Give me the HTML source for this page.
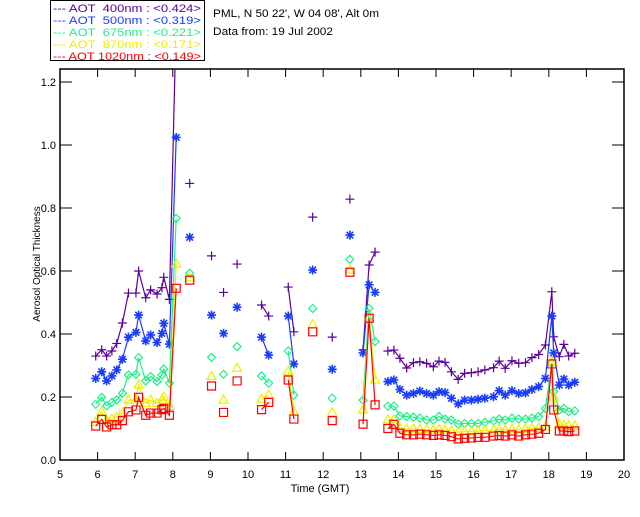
<!DOCTYPE html>
<html><head><meta charset="utf-8"><style>
body{margin:0;background:#fff;}
svg text{font-family:"Liberation Sans",sans-serif;}
</style></head><body>
<svg id="chart" width="640" height="512" xmlns="http://www.w3.org/2000/svg">
<rect width="640" height="512" fill="#fff"/>
<g font-size="11">
<rect x="50.5" y="0.5" width="154" height="60" fill="#fff" stroke="#000"/>
<text x="53" y="12" fill="#5a0099" textLength="148" lengthAdjust="spacingAndGlyphs" xml:space="preserve">--- AOT  400nm : &lt;0.424&gt;</text>
<text x="53" y="24" fill="#1a3cff" textLength="148" lengthAdjust="spacingAndGlyphs" xml:space="preserve">--- AOT  500nm : &lt;0.319&gt;</text>
<text x="53" y="36" fill="#22ee88" textLength="148" lengthAdjust="spacingAndGlyphs" xml:space="preserve">--- AOT  675nm : &lt;0.221&gt;</text>
<text x="53" y="48" fill="#eeee00" textLength="148" lengthAdjust="spacingAndGlyphs" xml:space="preserve">--- AOT  870nm : &lt;0.171&gt;</text>
<text x="53" y="60" fill="#ff0000" textLength="148" lengthAdjust="spacingAndGlyphs" xml:space="preserve">--- AOT 1020nm : &lt;0.149&gt;</text>
</g>
<text x="213" y="17" font-size="11" textLength="166" lengthAdjust="spacingAndGlyphs">PML, N 50 22', W 04 08', Alt 0m</text>
<text x="213" y="35" font-size="11" textLength="120" lengthAdjust="spacingAndGlyphs">Data from: 19 Jul 2002</text>
<text x="320" y="492" font-size="11" text-anchor="middle">Time (GMT)</text>
<text transform="translate(40,264) rotate(-90)" font-size="10" text-anchor="middle">Aerosol Optical Thickness</text>
<g id="axes"></g>
<g id="marks"></g>
</svg>
<script>
const xTicks=[5,6,7,8,9,10,11,12,13,14,15,16,17,18,19,20];
const yTicks=[0,0.2,0.4,0.6,0.8,1.0,1.2];
const yTickLabels=["0.0","0.2","0.4","0.6","0.8","1.0","1.2"];
const times=[5.95,6.11,6.24,6.38,6.51,6.66,6.82,7.02,7.09,7.28,7.41,7.58,7.71,7.76,7.91,8.09,8.45,9.03,9.35,9.71,10.36,10.55,11.07,11.22,11.72,12.24,12.71,13.06,13.22,13.38,13.72,13.88,14.04,14.22,14.4,14.57,14.75,14.93,15.08,15.24,15.41,15.59,15.76,15.94,16.12,16.3,16.53,16.68,16.84,17.02,17.2,17.38,17.55,17.73,17.91,18.08,18.13,18.28,18.4,18.53,18.69];
const aot400=[0.33,0.35,0.33,0.346,0.37,0.435,0.53,0.53,0.60,0.515,0.54,0.527,0.547,0.58,0.51,1.4,0.878,0.648,0.532,0.622,0.492,0.457,0.549,0.407,0.771,0.39,0.828,0.35,0.619,0.66,0.346,0.349,0.323,0.292,0.309,0.312,0.307,0.296,0.314,0.31,0.28,0.256,0.275,0.277,0.28,0.286,0.293,0.314,0.291,0.315,0.307,0.309,0.325,0.335,0.365,0.534,0.391,0.328,0.367,0.33,0.339];
const aot500=[0.259,0.28,0.251,0.267,0.286,0.32,0.39,0.405,0.46,0.378,0.397,0.373,0.402,0.434,0.368,1.024,0.707,0.46,0.402,0.485,0.39,0.333,0.457,0.305,0.603,0.288,0.714,0.34,0.556,0.532,0.249,0.254,0.224,0.206,0.211,0.219,0.211,0.206,0.217,0.214,0.196,0.178,0.19,0.19,0.193,0.196,0.201,0.22,0.206,0.22,0.211,0.213,0.224,0.233,0.259,0.457,0.34,0.238,0.257,0.238,0.247];
const aot675=[0.177,0.199,0.172,0.183,0.191,0.212,0.27,0.272,0.325,0.251,0.265,0.249,0.27,0.289,0.244,0.767,0.593,0.326,0.272,0.36,0.267,0.244,0.346,0.206,0.481,0.196,0.637,0.19,0.481,0.376,0.171,0.171,0.14,0.138,0.136,0.133,0.127,0.127,0.138,0.13,0.127,0.114,0.116,0.116,0.116,0.12,0.124,0.13,0.127,0.133,0.13,0.13,0.133,0.138,0.164,0.307,0.217,0.158,0.164,0.153,0.156];
const aot870=[0.12,0.153,0.125,0.13,0.135,0.15,0.19,0.19,0.238,0.18,0.19,0.18,0.19,0.2,0.17,0.622,0.578,0.265,0.19,0.291,0.193,0.206,0.28,0.153,0.429,0.15,0.603,0.159,0.45,0.254,0.127,0.127,0.1,0.098,0.098,0.097,0.096,0.095,0.097,0.095,0.093,0.088,0.09,0.09,0.092,0.093,0.095,0.097,0.095,0.098,0.096,0.098,0.1,0.101,0.105,0.312,0.2,0.111,0.111,0.108,0.108];
const aot1020=[0.108,0.129,0.105,0.112,0.112,0.125,0.153,0.159,0.199,0.142,0.149,0.149,0.16,0.164,0.142,0.545,0.571,0.235,0.151,0.251,0.16,0.183,0.254,0.13,0.407,0.125,0.596,0.114,0.45,0.175,0.1,0.113,0.085,0.08,0.08,0.082,0.08,0.078,0.08,0.078,0.074,0.067,0.069,0.07,0.072,0.072,0.076,0.078,0.076,0.08,0.076,0.08,0.082,0.085,0.097,0.305,0.159,0.092,0.092,0.09,0.092];

const L=60,R=624,T=69,B=460;
const X=t=>L+(t-5)*(R-L)/15;
const Y=v=>B-v*315;
const NS='http://www.w3.org/2000/svg';
function mk(tag,attrs,parent){const e=document.createElementNS(NS,tag);for(const k in attrs)e.setAttribute(k,attrs[k]);parent.appendChild(e);return e;}
const axes=document.getElementById('axes');
const marks=document.getElementById('marks');
const frame=mk('rect',{x:L,y:T,width:R-L,height:B-T,fill:'none',stroke:'#000','stroke-width':1.5},axes);


xTicks.forEach(t=>{
  const x=X(t);
  if(t>5&&t<20){
    const a=mk('line',{x1:x,y1:B,x2:x,y2:B-8,stroke:'#000'},axes);
    
    
    const b=mk('line',{x1:x,y1:T,x2:x,y2:T+8,stroke:'#000'},axes);
    
    
  }
  const tx=mk('text',{x:x,y:B+18,'font-size':11,'text-anchor':'middle'},axes);
  tx.textContent=String(t);
  
  
});
yTicks.forEach((v,i)=>{
  const y=Y(v);
  if(v>0){
    const a=mk('line',{x1:L,y1:y,x2:L+12,y2:y,stroke:'#000'},axes);
    
    
    const b=mk('line',{x1:R,y1:y,x2:R-12,y2:y,stroke:'#000'},axes);
    
    
  }
  const tx=mk('text',{x:L-4,y:y+4,'font-size':11,'text-anchor':'end'},axes);
  tx.textContent=yTickLabels[i];
  
  
});
const clip=mk('clipPath',{id:'pc'},marks);
mk('rect',{x:L,y:T,width:R-L,height:B-T},clip);
const series=[
 {name:'aot-400',vals:aot400,color:'#5a0099',m:'plus'},
 {name:'aot-500',vals:aot500,color:'#1a3cff',m:'star'},
 {name:'aot-675',vals:aot675,color:'#22ee88',m:'diamond'},
 {name:'aot-870',vals:aot870,color:'#eeee00',m:'tri'},
 {name:'aot-1020',vals:aot1020,color:'#ff0000',m:'square'}];
series.forEach(s=>{
  const g=mk('g',{'clip-path':'url(#pc)'},marks);
  
  
  let d='';
  for(let i=0;i<times.length;i++){
    const x=X(times[i]),y=Y(s.vals[i]);
    if(i>0&&times[i]-times[i-1]<0.25)d+='L'+x+' '+y;else d+='M'+x+' '+y;
  }
  const p=mk('path',{d:d,fill:'none',stroke:s.color,'stroke-width':1.2},g);
  
  
  for(let i=0;i<times.length;i++){
    const x=X(times[i]),y=Y(s.vals[i]);let md;
    if(s.m==='plus')md=`M${x-4.5} ${y}H${x+4.5}M${x} ${y-4.5}V${y+4.5}`;
    else if(s.m==='star')md=`M${x-4.5} ${y}H${x+4.5}M${x} ${y-4.5}V${y+4.5}M${x-3.3} ${y-3.3}L${x+3.3} ${y+3.3}M${x-3.3} ${y+3.3}L${x+3.3} ${y-3.3}`;
    else if(s.m==='diamond')md=`M${x} ${y-4}L${x+4} ${y}L${x} ${y+4}L${x-4} ${y}Z`;
    else if(s.m==='tri')md=`M${x} ${y-5}L${x+4.5} ${y+3}L${x-4.5} ${y+3}Z`;
    else md=`M${x-4} ${y-4}H${x+4}V${y+4}H${x-4}Z`;
    const mm=mk('path',{d:md,fill:'none',stroke:s.color,'stroke-width':s.m==='star'?1.6:1.2},g);
    
    
  }
});
</script>
</body></html>
